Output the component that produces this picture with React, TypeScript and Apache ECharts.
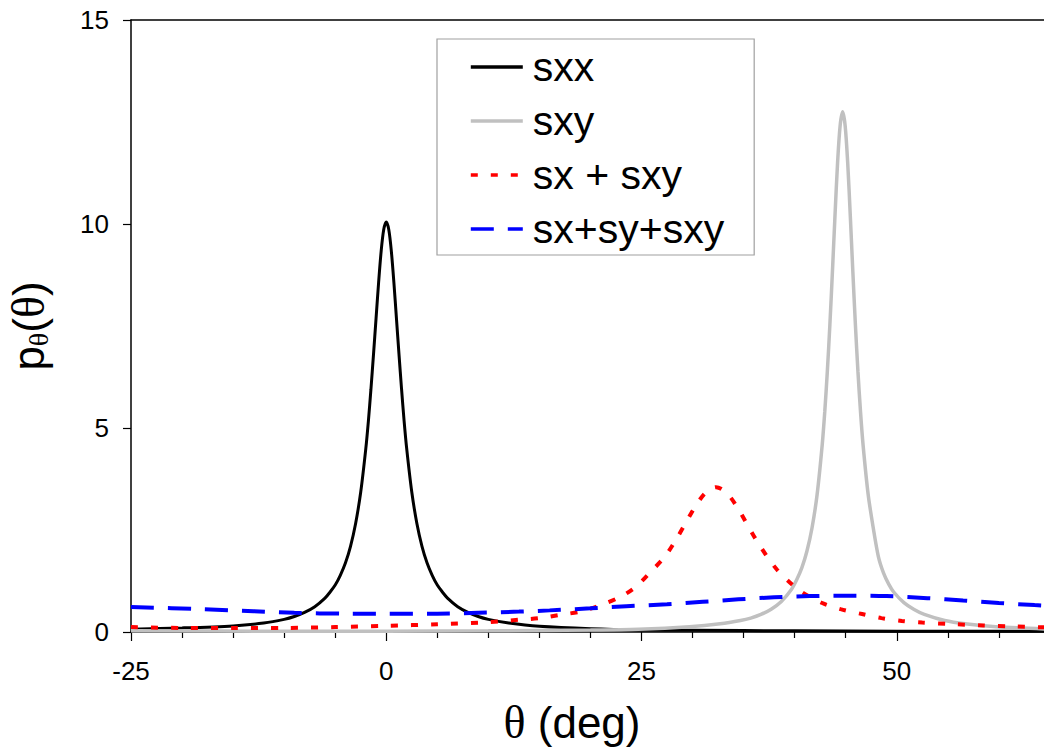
import React, { useEffect, useRef } from "react";
import * as echarts from "echarts";

const FONT = '"Liberation Sans", Arial, sans-serif';
const SERIF = '"Liberation Serif", "Times New Roman", serif';

const xTicks = [-25, 0, 25, 50];
const yTicks = [0, 5, 10, 15];

const seriesNames = ["sxx", "sxy", "sx + sxy", "sx+sy+sxy"];

const sxxX = [-25, -20, -15, -12, -10, -9, -8, -7, -6, -5.5, -5, -4.5, -4, -3.5, -3, -2.5, -2, -1.75, -1.5, -1.25, -1, -0.75, -0.5, -0.25, 0, 0.25, 0.5, 0.75, 1, 1.25, 1.5, 1.75, 2, 2.5, 3, 3.5, 4, 4.5, 5, 5.5, 6, 7, 8, 9, 10, 12, 15, 20, 25, 30, 40, 50, 65];
const sxxY = [0.07, 0.1, 0.15, 0.22, 0.31, 0.38, 0.48, 0.62, 0.83, 0.98, 1.15, 1.39, 1.69, 2.1, 2.66, 3.43, 4.5, 5.17, 5.95, 6.8, 7.68, 8.56, 9.33, 9.86, 10.05, 9.86, 9.33, 8.56, 7.68, 6.8, 5.95, 5.17, 4.5, 3.43, 2.66, 2.1, 1.69, 1.39, 1.15, 0.98, 0.83, 0.62, 0.48, 0.38, 0.31, 0.22, 0.14, 0.08, 0.05, 0.04, 0.03, 0.02, 0.02];

const sxyX = [-25, -10, 0, 10, 20, 24.7, 29.7, 32.7, 34.7, 35.7, 36.7, 37.7, 38.7, 39.7, 40.2, 40.7, 41.2, 41.7, 42.2, 42.7, 42.95, 43.2, 43.45, 43.7, 43.95, 44.2, 44.45, 44.7, 44.95, 45.2, 45.45, 45.7, 45.95, 46.2, 46.45, 46.7, 47.2, 47.7, 48.2, 48.7, 49.2, 49.7, 50.7, 51.7, 52.7, 54.7, 56.7, 59.7, 65];
const sxyY = [0.03, 0.02, 0.02, 0.03, 0.05, 0.07, 0.13, 0.2, 0.28, 0.34, 0.43, 0.56, 0.75, 1.05, 1.28, 1.57, 1.98, 2.55, 3.37, 4.59, 5.4, 6.38, 7.53, 8.83, 10.2, 11.48, 12.4, 12.75, 12.4, 11.48, 10.2, 8.83, 7.53, 6.38, 5.4, 4.59, 3.37, 2.55, 1.85, 1.45, 1.18, 0.98, 0.72, 0.55, 0.43, 0.28, 0.2, 0.13, 0.07];

const sxSxyX = [-25, -20, -15, -10, -5, 0, 5, 10, 13, 15, 17, 19, 21, 23, 24.5, 26, 27.3, 28.3, 29.3, 30.3, 31.3, 32.3, 33.3, 34.3, 35.3, 36.3, 37.3, 38.3, 39.5, 40.7, 42.7, 44.5, 46.6, 48.5, 50.5, 52.5, 55, 58.5, 61, 65];
const sxSxyY = [0.12, 0.1, 0.1, 0.1, 0.12, 0.15, 0.19, 0.24, 0.3, 0.34, 0.42, 0.5, 0.66, 0.87, 1.12, 1.5, 1.85, 2.23, 2.66, 3.09, 3.42, 3.55, 3.42, 3.09, 2.66, 2.23, 1.85, 1.52, 1.22, 0.98, 0.71, 0.56, 0.44, 0.34, 0.27, 0.23, 0.2, 0.16, 0.14, 0.11];

const allX = [-25, -18, -13, -9, -4, 0, 5, 9, 13, 16, 20, 23.5, 27.5, 31, 34.5, 38, 41.5, 45, 49, 53, 56.5, 60, 63.5, 65];
const allY = [0.61, 0.56, 0.51, 0.47, 0.45, 0.45, 0.45, 0.47, 0.5, 0.53, 0.58, 0.63, 0.68, 0.74, 0.8, 0.85, 0.88, 0.89, 0.88, 0.83, 0.77, 0.71, 0.66, 0.64];

const zip = (xs: number[], ys: number[]) => xs.map((x, i) => [x, ys[i]]);

export default function App() {
  const ref = useRef<HTMLDivElement>(null);
  useEffect(() => {
    if (!ref.current) return;
    const chart = echarts.init(ref.current, null, { renderer: "svg" });
    const black = { color: "#000", width: 1.5 };
    const tickStyle = { color: "#000", width: 1.2 };
    const mk = (i: number, xs: number[], ys: number[], color: string, width: number, type: any) => ({
      name: seriesNames[i],
      type: "line",
      data: zip(xs, ys),
      symbol: "none",
      smooth: 0.3,
      lineStyle: { color, width, type, cap: "butt" },
      itemStyle: { color },
    });
    const option: any = {
      animation: false,
      backgroundColor: "#fff",
      grid: { left: 131, top: 20, right: 18, bottom: 121, containLabel: false, outerBoundsMode: "none" },
      xAxis: [
        {
          type: "value",
          min: xTicks[0],
          max: 75,
          interval: xTicks[1] - xTicks[0],
          axisLine: { show: true, onZero: false, lineStyle: black },
          axisTick: { show: true, inside: false, length: 9, lineStyle: tickStyle },
          minorTick: { show: true, splitNumber: 5, length: 6, lineStyle: tickStyle },
          splitLine: { show: false },
          minorSplitLine: { show: false },
          axisLabel: { fontSize: 26, color: "#000", fontFamily: FONT, margin: 26, showMaxLabel: false },
        },
        {
          type: "value",
          position: "top",
          min: xTicks[0],
          max: 75,
          axisLine: { show: true, onZero: false, lineStyle: black },
          axisTick: { show: false },
          axisLabel: { show: false },
          splitLine: { show: false },
        },
      ],
      yAxis: {
        type: "value",
        min: yTicks[0],
        max: yTicks[yTicks.length - 1],
        interval: yTicks[1] - yTicks[0],
        axisLine: { show: true, onZero: false, lineStyle: black },
        axisTick: { show: true, inside: false, length: 8, lineStyle: tickStyle },
        splitLine: { show: false },
        axisLabel: { fontSize: 26, color: "#000", fontFamily: FONT, margin: 22 },
      },
      legend: {
        orient: "vertical",
        left: 437,
        top: 39,
        padding: [6, 30, 4, 32],
        itemWidth: 52,
        itemHeight: 14,
        itemGap: 10,
        borderColor: "#a0a0a0",
        borderWidth: 1.2,
        backgroundColor: "#fff",
        selectedMode: false,
        data: seriesNames,
        itemStyle: { opacity: 0, color: "rgba(0,0,0,0)", borderWidth: 0 },
        lineStyle: { width: 3.6 },
        textStyle: { fontSize: 41, fontFamily: FONT, color: "#000", lineHeight: 44, padding: [0, 0, 0, 5] },
      },
      graphic: [
        {
          type: "text",
          x: 572,
          y: 722,
          style: {
            text: "{t|θ} (deg)",
            rich: { t: { fontFamily: SERIF, fontSize: 46, fill: "#000" } },
            fontSize: 44,
            fontFamily: FONT,
            fill: "#000",
            align: "center",
            verticalAlign: "middle",
          },
        },
        {
          type: "text",
          x: 28,
          y: 326,
          rotation: Math.PI / 2,
          style: {
            text: "{p|p}{s|θ}{t|(}{u|θ}{t|)}",
            rich: {
              p: { fontFamily: FONT, fontSize: 44, fill: "#000" },
              t: { fontFamily: FONT, fontSize: 44, fill: "#000" },
              u: { fontFamily: SERIF, fontSize: 46, fill: "#000" },
              s: { fontFamily: SERIF, fontSize: 28, fill: "#000", padding: [20, 0, 0, 0] },
            },
            fill: "#000",
            align: "center",
            verticalAlign: "middle",
          },
        },
      ],
      series: [
        mk(0, sxxX, sxxY, "#000000", 3, "solid"),
        mk(1, sxyX, sxyY, "#c0c0c0", 3.5, "solid"),
        mk(2, sxSxyX, sxSxyY, "#ff0000", 4, [7, 13]),
        mk(3, allX, allY, "#0000ff", 4, [23, 14]),
      ],
    };
    chart.setOption(option);
    return () => chart.dispose();
  }, []);
  return (
    <div style={{ position: "fixed", left: 0, top: 0, width: 1044, height: 753, overflow: "hidden", background: "#fff" }}>
      <div ref={ref} style={{ width: 1170, height: 753 }} />
    </div>
  );
}
